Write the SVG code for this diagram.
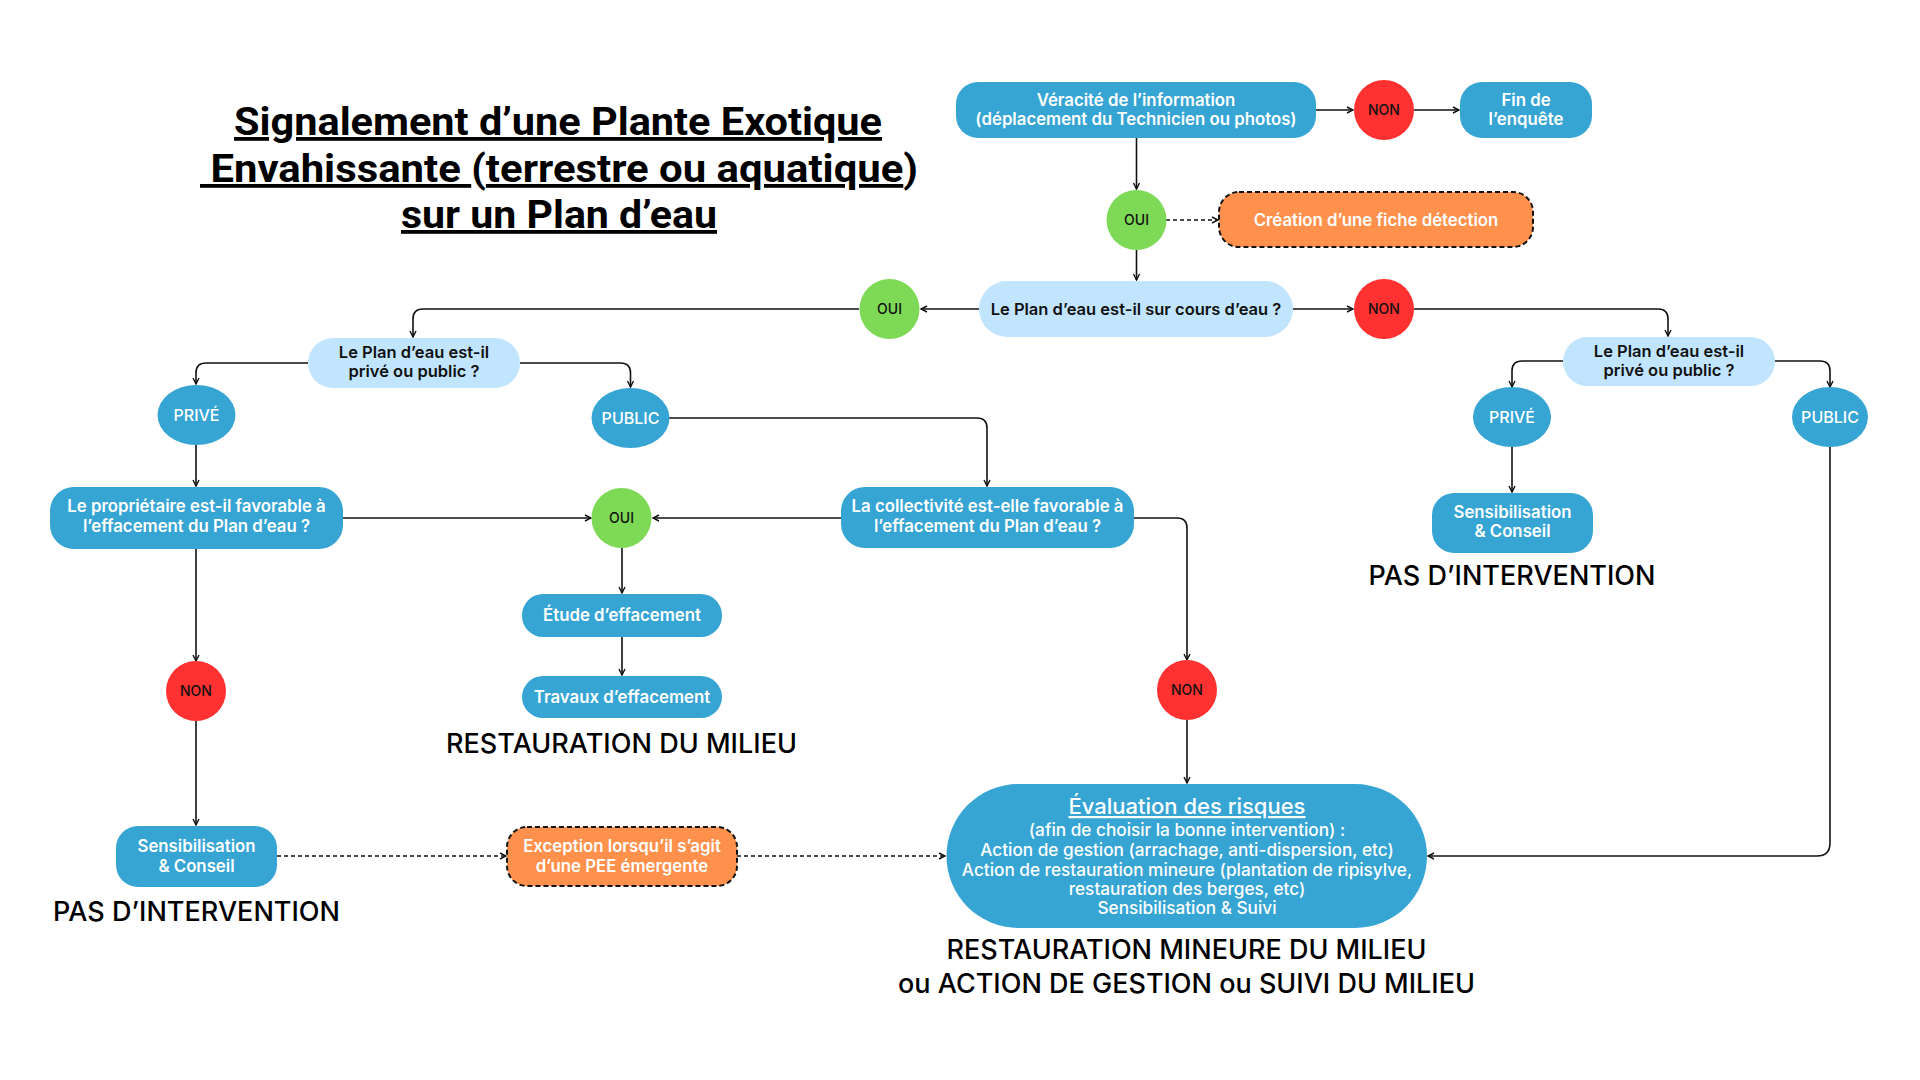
<svg xmlns="http://www.w3.org/2000/svg" width="1920" height="1080" viewBox="0 0 1920 1080">
<defs>
<marker id="arr" viewBox="0 0 8 8" refX="7" refY="4" markerWidth="8" markerHeight="8" markerUnits="userSpaceOnUse" orient="auto">
<path d="M1,1 L7,4 L1,7" fill="none" stroke="#111" stroke-width="1.4"/>
</marker>
<style>
.t{font-family:Inter,Roboto,"Liberation Sans",sans-serif;font-weight:600;text-anchor:middle}
.w{fill:#fff;font-size:16.8px}
.b{fill:#111;font-size:16.5px}
.s{fill:#111;font-size:14px;font-weight:500}
.lab{fill:#fff;font-size:16px;font-weight:500}
.ev{fill:#fff;font-size:17.2px;font-weight:500}
.big{fill:#000;font-size:27px;font-weight:500}
.title{font-family:Roboto,"Liberation Sans",sans-serif;font-weight:700;font-size:38px;text-anchor:middle;fill:#000}
.u{text-decoration:underline}
.blue{fill:#36A5D4}
.lb{fill:#C2E5FF}
.grn{fill:#7ED957}
.red{fill:#FF3131}
.org{fill:#FF914D;stroke:#111;stroke-width:2;stroke-dasharray:5 3}
.c{fill:none;stroke:#111;stroke-width:1.6}
.d{stroke-dasharray:4 3}
</style>
</defs>
<rect width="1920" height="1080" fill="#fff"/>

<g id="title">
<text class="title" x="558" y="135" textLength="648" lengthAdjust="spacingAndGlyphs"><tspan class="u">Signalement d’une Plante Exotique</tspan></text>
<text class="title" x="559" y="182" xml:space="preserve" textLength="718" lengthAdjust="spacingAndGlyphs"><tspan class="u"> Envahissante </tspan>(<tspan class="u">terrestre ou aquatique</tspan>)</text>
<text class="title" x="559" y="228" textLength="316" lengthAdjust="spacingAndGlyphs"><tspan class="u">sur un Plan d’eau</tspan></text>
</g>

<g id="connectors">
<path class="c" d="M1316,110 H1353" marker-end="url(#arr)"/>
<path class="c" d="M1414,110 H1459" marker-end="url(#arr)"/>
<path class="c" d="M1136.5,138 V189" marker-end="url(#arr)"/>
<path class="c d" d="M1166,220 H1218" marker-end="url(#arr)"/>
<path class="c" d="M1136.5,250 V280" marker-end="url(#arr)"/>
<path class="c" d="M979,309 H921" marker-end="url(#arr)"/>
<path class="c" d="M1293,309 H1353" marker-end="url(#arr)"/>
<path class="c" d="M859,309 H423 Q413,309 413,319 V337" marker-end="url(#arr)"/>
<path class="c" d="M1414,309 H1658 Q1668,309 1668,319 V336" marker-end="url(#arr)"/>
<path class="c" d="M308,363 H206 Q196,363 196,373 V384" marker-end="url(#arr)"/>
<path class="c" d="M520,363 H620.5 Q630.5,363 630.5,373 V387" marker-end="url(#arr)"/>
<path class="c" d="M196,445 V486" marker-end="url(#arr)"/>
<path class="c" d="M669,418 H977 Q987,418 987,428 V486" marker-end="url(#arr)"/>
<path class="c" d="M343,518 H591" marker-end="url(#arr)"/>
<path class="c" d="M841,518 H653" marker-end="url(#arr)"/>
<path class="c" d="M622,548 V593" marker-end="url(#arr)"/>
<path class="c" d="M622,637 V675" marker-end="url(#arr)"/>
<path class="c" d="M1134,518 H1177 Q1187,518 1187,528 V660" marker-end="url(#arr)"/>
<path class="c" d="M1187,720 V783" marker-end="url(#arr)"/>
<path class="c" d="M196,549 V661" marker-end="url(#arr)"/>
<path class="c" d="M196,721 V825" marker-end="url(#arr)"/>
<path class="c d" d="M277,856 H506" marker-end="url(#arr)"/>
<path class="c d" d="M737,856 H945" marker-end="url(#arr)"/>
<path class="c" d="M1563,361 H1522 Q1512,361 1512,371 V387" marker-end="url(#arr)"/>
<path class="c" d="M1775,361 H1820 Q1830,361 1830,371 V387" marker-end="url(#arr)"/>
<path class="c" d="M1512,447 V492" marker-end="url(#arr)"/>
<path class="c" d="M1830,447 V843 Q1830,856 1817,856 H1428" marker-end="url(#arr)"/>
</g>

<g id="n-veracite">
<rect class="blue" x="956" y="82" width="360" height="56" rx="22"/>
<text class="t w" x="1136" y="106">Véracité de l’information</text>
<text class="t w" x="1136" y="125">(déplacement du Technicien ou photos)</text>
</g>
<g id="n-non-top">
<circle class="red" cx="1384" cy="110" r="30"/>
<text class="t s" x="1384" y="115">NON</text>
</g>
<g id="n-fin">
<rect class="blue" x="1460" y="82" width="132" height="56" rx="22"/>
<text class="t w" x="1526" y="106">Fin de</text>
<text class="t w" x="1526" y="125">l’enquête</text>
</g>
<g id="n-oui-top">
<circle class="grn" cx="1136.5" cy="220" r="30"/>
<text class="t s" x="1136.5" y="225">OUI</text>
</g>
<g id="n-creation">
<rect class="org" x="1219" y="192" width="314" height="55" rx="20"/>
<text class="t w" x="1376" y="226">Création d’une fiche détection</text>
</g>
<g id="n-cours">
<rect class="lb" x="979" y="281" width="314" height="56" rx="28"/>
<text class="t b" x="1136" y="315">Le Plan d’eau est-il sur cours d’eau ?</text>
</g>
<g id="n-oui-left">
<circle class="grn" cx="889.5" cy="309" r="30"/>
<text class="t s" x="889.5" y="314">OUI</text>
</g>
<g id="n-non-right">
<circle class="red" cx="1384" cy="309" r="30"/>
<text class="t s" x="1384" y="314">NON</text>
</g>

<g id="n-pp-left">
<rect class="lb" x="308" y="338" width="212" height="50" rx="25"/>
<text class="t b" x="414" y="358">Le Plan d’eau est-il</text>
<text class="t b" x="414" y="377">privé ou public ?</text>
</g>
<g id="n-prive-left">
<ellipse class="blue" cx="196.5" cy="415" rx="39" ry="30"/>
<text class="t lab" x="196.5" y="421">PRIVÉ</text>
</g>
<g id="n-public-left">
<ellipse class="blue" cx="630.5" cy="418" rx="39" ry="30"/>
<text class="t lab" x="630.5" y="424">PUBLIC</text>
</g>
<g id="n-proprietaire">
<rect class="blue" x="50" y="487" width="293" height="62" rx="24"/>
<text class="t w" x="196.5" y="512">Le propriétaire est-il favorable à</text>
<text class="t w" x="196.5" y="532">l’effacement du Plan d’eau ?</text>
</g>
<g id="n-oui-mid">
<circle class="grn" cx="621.5" cy="518" r="30"/>
<text class="t s" x="621.5" y="523">OUI</text>
</g>
<g id="n-collectivite">
<rect class="blue" x="841" y="487" width="293" height="61" rx="24"/>
<text class="t w" x="987.5" y="512">La collectivité est-elle favorable à</text>
<text class="t w" x="987.5" y="532">l’effacement du Plan d’eau ?</text>
</g>
<g id="n-etude">
<rect class="blue" x="522" y="594" width="200" height="43" rx="21"/>
<text class="t w" x="622" y="621">Étude d’effacement</text>
</g>
<g id="n-travaux">
<rect class="blue" x="522" y="676" width="200" height="42" rx="21"/>
<text class="t w" x="622" y="703">Travaux d’effacement</text>
</g>
<text class="t big" x="621.5" y="753" textLength="351">RESTAURATION DU MILIEU</text>

<g id="n-non-left">
<circle class="red" cx="196" cy="691" r="30"/>
<text class="t s" x="196" y="696">NON</text>
</g>
<g id="n-sensi-left">
<rect class="blue" x="116" y="826" width="161" height="61" rx="22"/>
<text class="t w" x="196.5" y="852">Sensibilisation</text>
<text class="t w" x="196.5" y="872">&amp; Conseil</text>
</g>
<text class="t big" x="196.5" y="921" textLength="287">PAS D’INTERVENTION</text>
<g id="n-exception">
<rect class="org" x="507" y="827" width="230" height="59" rx="20"/>
<text class="t w" x="622" y="852">Exception lorsqu’il s’agit</text>
<text class="t w" x="622" y="872">d’une PEE émergente</text>
</g>

<g id="n-non-mid">
<circle class="red" cx="1187" cy="690" r="30"/>
<text class="t s" x="1187" y="695">NON</text>
</g>
<g id="n-evaluation">
<rect class="blue" x="946.5" y="784" width="480.5" height="144" rx="72"/>
<text class="t ev u" x="1187" y="814" style="font-size:22px">Évaluation des risques</text>
<text class="t ev" x="1187" y="836">(afin de choisir la bonne intervention) :</text>
<text class="t ev" x="1187" y="856">Action de gestion (arrachage, anti-dispersion, etc)</text>
<text class="t ev" x="1187" y="876">Action de restauration mineure (plantation de ripisylve,</text>
<text class="t ev" x="1187" y="895">restauration des berges, etc)</text>
<text class="t ev" x="1187" y="914">Sensibilisation &amp; Suivi</text>
</g>
<text class="t big" x="1186.5" y="959" textLength="480">RESTAURATION MINEURE DU MILIEU</text>
<text class="t big" x="1186.5" y="993" textLength="577">ou ACTION DE GESTION ou SUIVI DU MILIEU</text>

<g id="n-pp-right">
<rect class="lb" x="1563" y="337" width="212" height="49" rx="24.5"/>
<text class="t b" x="1669" y="357">Le Plan d’eau est-il</text>
<text class="t b" x="1669" y="376">privé ou public ?</text>
</g>
<g id="n-prive-right">
<ellipse class="blue" cx="1512" cy="417" rx="39" ry="30"/>
<text class="t lab" x="1512" y="423">PRIVÉ</text>
</g>
<g id="n-public-right">
<ellipse class="blue" cx="1830" cy="417" rx="38" ry="30"/>
<text class="t lab" x="1830" y="423">PUBLIC</text>
</g>
<g id="n-sensi-right">
<rect class="blue" x="1432" y="493" width="161" height="60" rx="22"/>
<text class="t w" x="1512.5" y="518">Sensibilisation</text>
<text class="t w" x="1512.5" y="537">&amp; Conseil</text>
</g>
<text class="t big" x="1512" y="585" textLength="287">PAS D’INTERVENTION</text>
</svg>
